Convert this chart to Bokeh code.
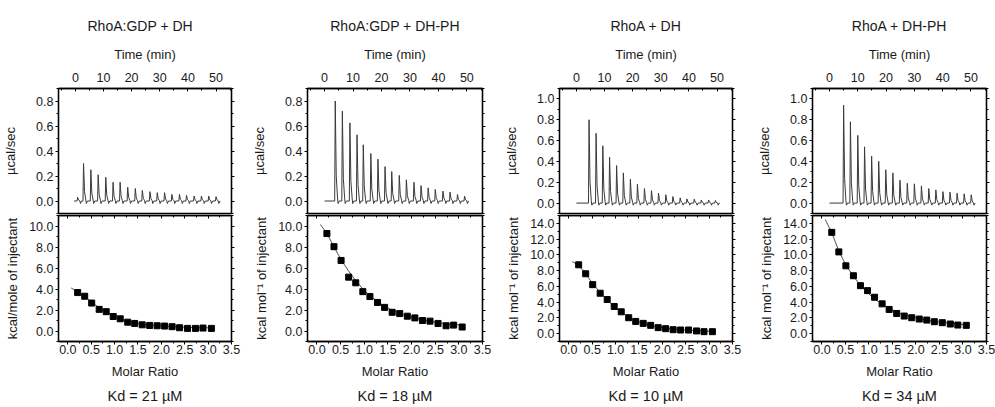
from bokeh.plotting import figure
from bokeh.models import (LinearAxis, Title, SingleIntervalTicker, NumeralTickFormatter,
                          Range1d, CustomJSTickFormatter)
from bokeh.layouts import row, column
from bokeh.embed import file_html
from bokeh.resources import INLINE

# ---------------- data ----------------
panel_titles = ["RhoA:GDP + DH", "RhoA:GDP + DH-PH", "RhoA + DH", "RhoA + DH-PH"]
kd_labels = ["Kd = 21 µM", "Kd = 18 µM", "Kd = 10 µM", "Kd = 34 µM"]
top_ylabel = "µcal/sec"
top_xlabel = "Time (min)"
bottom_xlabel = "Molar Ratio"
bottom_ylabels = ["kcal/mole of injectant", "kcal mol⁻¹ of injectant",
                  "kcal mol⁻¹ of injectant", "kcal mol⁻¹ of injectant"]

# raw thermograms: injection peak times (min) and peak heights (µcal/sec)
t1 = [0.8, 2.9, 5.5, 8.1, 10.8, 13.4, 15.9, 18.6, 21.3, 23.8, 26.5, 29.1, 31.7, 34.3, 37.0, 39.5, 42.2, 44.8, 47.4, 50.0]
h1 = [0.03, 0.30, 0.25, 0.21, 0.19, 0.15, 0.15, 0.11, 0.10, 0.085, 0.075, 0.067, 0.067, 0.053, 0.053, 0.045, 0.04, 0.04, 0.04, 0.035]
t2 = [3.75, 6.25, 8.9, 11.4, 13.6, 16.25, 18.75, 21.25, 23.6, 26.25, 28.75, 31.4, 33.9, 36.4, 38.9, 41.6, 44.1, 46.7, 49.2]
h2 = [0.80, 0.72, 0.625, 0.53, 0.45, 0.38, 0.335, 0.275, 0.236, 0.205, 0.17, 0.15, 0.123, 0.105, 0.092, 0.079, 0.071, 0.052, 0.039]
t3 = [4.5, 7.0, 9.4, 11.8, 14.3, 16.7, 19.2, 21.7, 24.2, 26.7, 29.2, 31.8, 34.3, 36.9, 39.3, 41.9, 44.4, 47.0, 49.4]
h3 = [0.80, 0.67, 0.55, 0.44, 0.36, 0.29, 0.23, 0.18, 0.14, 0.12, 0.095, 0.08, 0.063, 0.05, 0.04, 0.038, 0.03, 0.03, 0.025]
t4 = [5.0, 7.4, 10.0, 12.4, 14.9, 17.4, 19.9, 22.4, 24.9, 27.5, 30.0, 32.5, 35.1, 37.6, 40.1, 42.6, 45.1, 47.6, 50.1]
h4 = [0.94, 0.78, 0.65, 0.54, 0.45, 0.40, 0.32, 0.29, 0.22, 0.19, 0.185, 0.165, 0.14, 0.127, 0.11, 0.105, 0.095, 0.089, 0.08]
run_start = [-0.5, 0.0, 0.0, 0.0]
run_end = [51.5, 50.5, 51.0, 51.5]

# integrated heats (kcal/mol of injectant) vs molar ratio
molar_ratio = [0.21, 0.36, 0.51, 0.67, 0.82, 0.97, 1.12, 1.28, 1.43, 1.59, 1.75, 1.91, 2.07, 2.23, 2.39, 2.56, 2.73, 2.89, 3.07]
q1 = [3.66, 3.31, 2.66, 2.06, 1.84, 1.38, 1.16, 0.84, 0.72, 0.59, 0.53, 0.50, 0.47, 0.41, 0.31, 0.25, 0.25, 0.28, 0.25]
q2 = [9.28, 8.03, 6.72, 5.13, 4.59, 3.75, 3.28, 2.72, 2.25, 1.78, 1.66, 1.41, 1.25, 1.00, 0.94, 0.72, 0.50, 0.56, 0.38]
q3 = [8.74, 7.60, 6.22, 5.13, 4.33, 3.45, 2.77, 2.02, 1.55, 1.30, 1.05, 0.76, 0.63, 0.50, 0.46, 0.46, 0.34, 0.25, 0.25]
q4 = [12.86, 10.38, 8.61, 7.35, 6.09, 5.46, 4.62, 3.78, 3.07, 2.56, 2.23, 2.02, 1.85, 1.72, 1.51, 1.39, 1.22, 1.09, 1.05]

# fitted binding curves
fit_x = [0.07, 0.21, 0.36, 0.51, 0.67, 0.82, 0.97, 1.12, 1.28, 1.43, 1.59, 1.75, 1.91, 2.07, 2.23, 2.39, 2.56, 2.73, 2.89, 3.07]
fit1 = [4.10, 3.75, 3.30, 2.75, 2.20, 1.80, 1.45, 1.15, 0.92, 0.76, 0.65, 0.57, 0.50, 0.45, 0.41, 0.38, 0.35, 0.33, 0.31, 0.30]
fit2 = [10.15, 9.30, 8.00, 6.80, 5.70, 4.80, 4.00, 3.35, 2.80, 2.35, 1.98, 1.68, 1.43, 1.23, 1.06, 0.92, 0.80, 0.70, 0.62, 0.55]
fit3 = [9.15, 8.70, 7.60, 6.35, 5.20, 4.25, 3.40, 2.70, 2.10, 1.65, 1.30, 1.05, 0.85, 0.70, 0.58, 0.50, 0.43, 0.38, 0.33, 0.30]
fit4 = [14.50, 12.80, 10.50, 8.70, 7.30, 6.10, 5.20, 4.40, 3.75, 3.20, 2.75, 2.40, 2.12, 1.90, 1.72, 1.56, 1.43, 1.32, 1.22, 1.12]

top_ymax = [0.9, 0.9, 1.1, 1.1]
bottom_ymax = [11, 11, 15, 15]

times = [t1, t2, t3, t4]
heights = [h1, h2, h3, h4]
heats = [q1, q2, q3, q4]
fits = [fit1, fit2, fit3, fit4]

# ---------------- style ----------------
FONT = "Liberation Sans"
TXT = "#1a1a1a"
col_width = [249, 252, 253, 241]
border_left = [58, 58, 58, 58]
border_right = [18, 19, 22, 9]
title_align = ["left", "center", "center", "center"]
title_offset = [29, 0, 0, 0]
# peak shape template (relative time offset, fraction of height)
shape_dt = [-0.2, 0.0, 0.35, 0.8]
shape_fr = [0.0, 1.0, 0.25, 0.03]
DIP = -0.02

blank = CustomJSTickFormatter(code="return ''")


def style_axis(ax, labels=True):
    ax.axis_line_color = "black"
    ax.axis_line_width = 1.3
    ax.major_tick_line_color = "black"
    ax.minor_tick_line_color = "black"
    ax.major_tick_line_width = 1
    ax.minor_tick_line_width = 1
    ax.major_label_text_font = FONT
    ax.major_label_text_color = TXT
    ax.major_label_text_font_size = "12.5px"
    ax.axis_label_text_font = FONT
    ax.axis_label_text_font_style = "normal"
    ax.axis_label_text_color = TXT
    ax.axis_label_text_font_size = "13px"
    if not labels:
        ax.formatter = blank
        ax.major_label_standoff = 0


def thermogram(ts, hs, t0, t1_):
    xs, ys = [t0], [0.0]
    for t, h in zip(ts, hs):
        for d, f in zip(shape_dt, shape_fr):
            xs.append(t + d)
            ys.append(h * f)
        xs += [t + 1.0, t + 1.4]
        ys += [DIP, 0.0]
    xs.append(t1_)
    ys.append(0.0)
    return xs, ys


cols = []
for i in range(4):
    # ---------- top: raw heat rate ----------
    pt = figure(width=col_width[i], height=214, x_range=Range1d(-6, 55.5),
                y_range=Range1d(-0.1, top_ymax[i]), x_axis_location="above",
                output_backend="svg", toolbar_location=None,
                min_border_left=border_left[i], min_border_right=border_right[i],
                min_border_top=88, min_border_bottom=1, title=panel_titles[i])
    pt.title.align = title_align[i]
    pt.title.text_font = FONT
    pt.title.text_font_size = "14px"
    pt.title.text_font_style = "normal"
    pt.title.text_color = TXT
    pt.title.offset = title_offset[i]
    pt.title.standoff = 20
    pt.grid.visible = False
    pt.outline_line_color = "black"
    pt.outline_line_width = 1.3
    pt.xaxis.ticker = SingleIntervalTicker(interval=10, num_minor_ticks=2)
    pt.yaxis.ticker = SingleIntervalTicker(interval=0.2, num_minor_ticks=2)
    pt.yaxis.formatter = NumeralTickFormatter(format="0.0")
    pt.xaxis.axis_label = top_xlabel
    pt.yaxis.axis_label = top_ylabel
    style_axis(pt.xaxis[0])
    style_axis(pt.yaxis[0])
    pt.xaxis.major_tick_in = 3
    pt.xaxis.major_tick_out = 0
    pt.xaxis.minor_tick_in = 2
    pt.xaxis.minor_tick_out = 0
    pt.xaxis.major_label_standoff = 7
    pt.xaxis.axis_label_standoff = 8
    pt.yaxis.major_tick_out = 3
    pt.yaxis.major_tick_in = 0
    pt.yaxis.minor_tick_out = 2
    pt.yaxis.major_label_standoff = 2
    pt.yaxis.axis_label_standoff = 15
    ra = LinearAxis(ticker=SingleIntervalTicker(interval=0.2, num_minor_ticks=2))
    style_axis(ra, labels=False)
    ra.major_tick_out = 3
    ra.major_tick_in = 0
    ra.minor_tick_out = 2
    pt.add_layout(ra, "right")

    xs, ys = thermogram(times[i], heights[i], run_start[i], run_end[i])
    pt.line(xs, ys, line_color="#3a3a3a", line_width=1)

    # ---------- bottom: integrated heats ----------
    pb = figure(width=col_width[i], height=193, x_range=Range1d(-0.2, 3.5),
                y_range=Range1d(-1, bottom_ymax[i]),
                output_backend="svg", toolbar_location=None,
                min_border_left=border_left[i], min_border_right=border_right[i],
                min_border_top=1, min_border_bottom=60)
    pb.grid.visible = False
    pb.outline_line_color = "black"
    pb.outline_line_width = 1.3
    pb.xaxis.ticker = SingleIntervalTicker(interval=0.5, num_minor_ticks=2)
    pb.yaxis.ticker = SingleIntervalTicker(interval=2, num_minor_ticks=2)
    pb.xaxis.formatter = NumeralTickFormatter(format="0.0")
    pb.yaxis.formatter = NumeralTickFormatter(format="0.0")
    pb.xaxis.axis_label = bottom_xlabel
    pb.yaxis.axis_label = bottom_ylabels[i]
    style_axis(pb.xaxis[0])
    style_axis(pb.yaxis[0])
    pb.xaxis.major_tick_out = 3
    pb.xaxis.major_tick_in = 0
    pb.xaxis.minor_tick_out = 2
    pb.xaxis.major_label_standoff = 0
    pb.xaxis.axis_label_standoff = 7
    pb.yaxis.major_tick_out = 3
    pb.yaxis.major_tick_in = 0
    pb.yaxis.minor_tick_out = 2
    pb.yaxis.major_label_standoff = 2
    pb.yaxis.axis_label_standoff = 6
    ta = LinearAxis(ticker=SingleIntervalTicker(interval=0.5, num_minor_ticks=2))
    style_axis(ta, labels=False)
    ta.major_tick_in = 3
    ta.major_tick_out = 0
    ta.minor_tick_in = 2
    ta.minor_tick_out = 0
    pb.add_layout(ta, "above")
    rb = LinearAxis(ticker=SingleIntervalTicker(interval=2, num_minor_ticks=2))
    style_axis(rb, labels=False)
    rb.major_tick_out = 3
    rb.major_tick_in = 0
    rb.minor_tick_out = 2
    pb.add_layout(rb, "right")
    pb.add_layout(Title(text=kd_labels[i], align="center", text_font=FONT,
                        text_font_size="14.5px", text_font_style="normal",
                        text_color=TXT, standoff=8), "below")

    pb.line(fit_x, fits[i], line_color="#555555", line_width=1)
    pb.scatter(molar_ratio, heats[i], marker="square", size=6,
               fill_color="black", line_color="black")

    cols.append(column(pt, pb, spacing=0))

layout = row(*cols, spacing=0)

open("out.html", "w").write(file_html(layout, INLINE))
